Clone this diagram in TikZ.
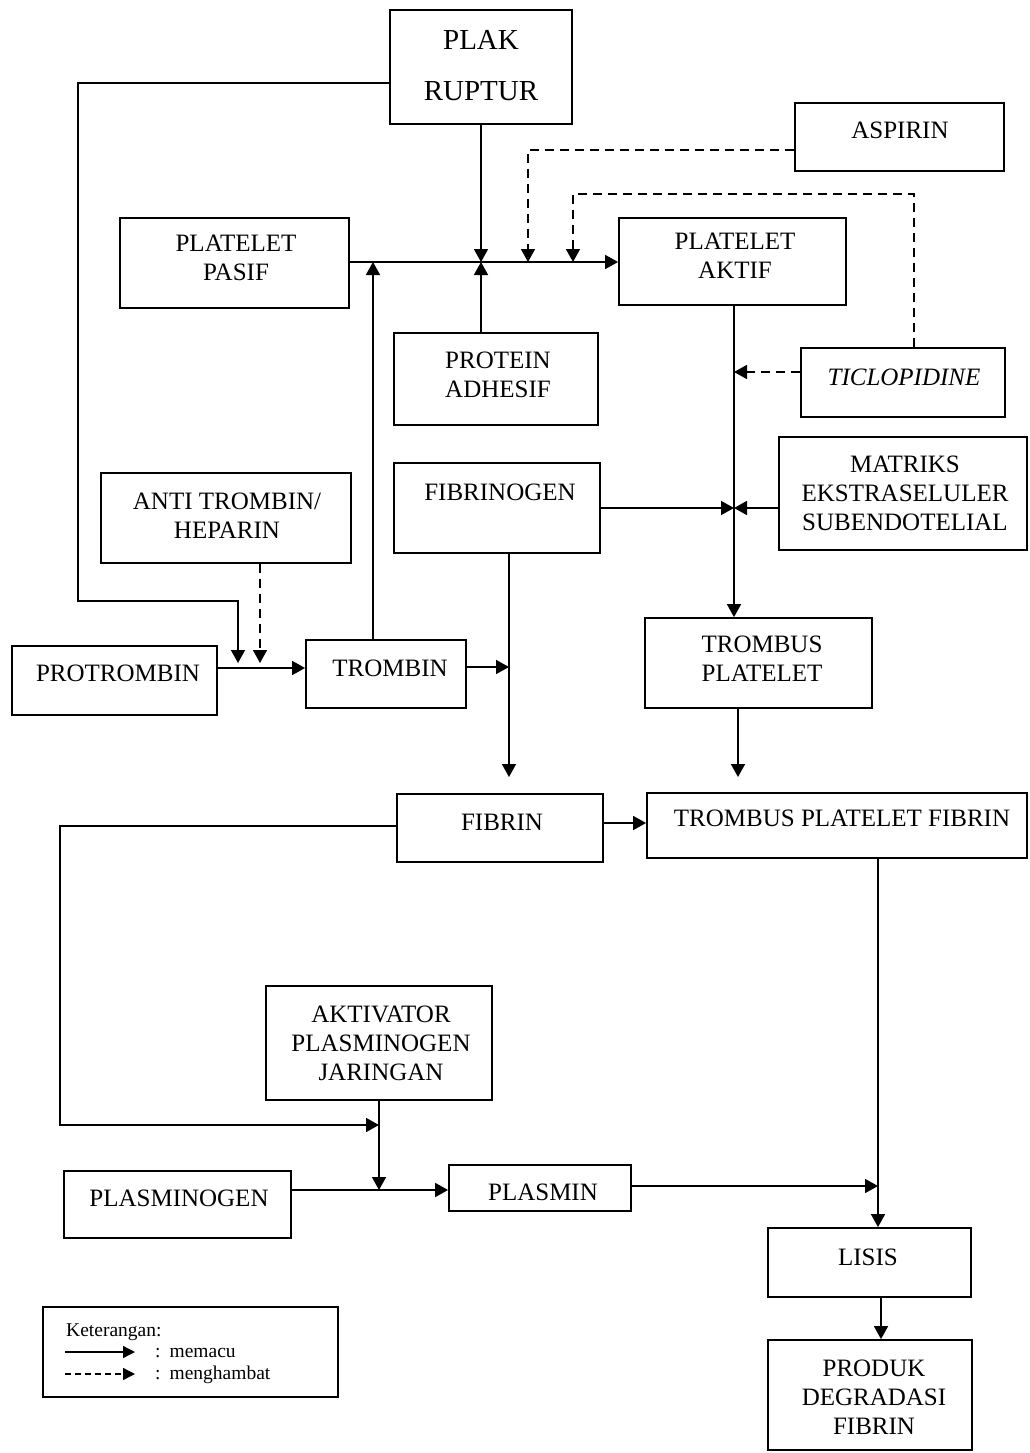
\documentclass[tikz,border=0pt]{standalone}
\usepackage{fontspec}
\setmainfont{Liberation Serif}
\usetikzlibrary{arrows.meta}
\newcommand\mybox[5]{\node[box,minimum width={(#4)-(#2)},minimum height={(#5)-(#3)}] (#1) at ({((#2)+(#4))/2},{((#3)+(#5))/2}) {};}
\begin{document}
\begin{tikzpicture}[x=1pt,y=-1pt,
  box/.style={draw,line width=1.8pt,inner sep=0pt},
  txt/.style={font=\fontsize{25}{29}\selectfont,align=center,inner sep=0pt},
  bigtxt/.style={font=\fontsize{29}{51}\selectfont,align=center,inner sep=0pt},
  legtxt/.style={font=\fontsize{19.5}{22}\selectfont,inner sep=0pt},
  arr/.style={line width=1.6pt,-{Triangle[length=13pt,width=14pt]}},
  darr/.style={arr,dash pattern=on 9pt off 6pt},
  larr/.style={line width=1.4pt,-{Triangle[length=12pt,width=12pt]}},
  ldarr/.style={larr,dash pattern=on 6pt off 4pt},
]
\useasboundingbox (0,0) rectangle (1029,1453);

% boxes
\mybox{plak}{390}{10}{572}{124}
\mybox{aspirin}{795}{103}{1004}{171}
\mybox{pasif}{120}{218}{349}{308}
\mybox{aktif}{619}{218}{846}{305}
\mybox{protein}{394}{333}{598}{425}
\mybox{ticlo}{801}{348}{1005}{417}
\mybox{anti}{101}{473}{351}{563}
\mybox{fibrinogen}{394}{463}{600}{553}
\mybox{matriks}{779}{437}{1027}{550}
\mybox{protrombin}{12}{646}{217}{715}
\mybox{trombin}{306}{640}{466}{708}
\mybox{tp}{645}{618}{872}{708}
\mybox{fibrin}{397}{794}{603}{862}
\mybox{tpf}{647}{793}{1027}{858}
\mybox{akt}{266}{986}{492}{1100}
\mybox{plasminogen}{64}{1171}{291}{1238}
\mybox{plasmin}{449}{1165}{631}{1211}
\mybox{lisis}{768}{1228}{971}{1297}
\mybox{produk}{768}{1340}{972}{1450}
\mybox{legend}{43}{1307}{338}{1397}

% texts
\node[bigtxt] (tplak) at (481,66) {PLAK\\RUPTUR};
\node[txt] (taspirin) at (900,130) {ASPIRIN};
\node[txt] (tpasif) at (236,258) {PLATELET\\PASIF};
\node[txt] (taktif) at (735,256) {PLATELET\\AKTIF};
\node[txt] (tprotein) at (498,375) {PROTEIN\\ADHESIF};
\node[txt] (tticlo) at (904,377) {\itshape TICLOPIDINE};
\node[txt] (tanti) at (227,516) {ANTI TROMBIN/\\HEPARIN};
\node[txt] (tfibrinogen) at (500,492) {FIBRINOGEN};
\node[txt] (tmatriks) at (905,493) {MATRIKS\\EKSTRASELULER\\SUBENDOTELIAL};
\node[txt] (tprotrombin) at (118,673) {PROTROMBIN};
\node[txt] (ttrombin) at (390,668) {TROMBIN};
\node[txt] (ttp) at (762,659) {TROMBUS\\PLATELET};
\node[txt] (tfibrin) at (502,822) {FIBRIN};
\node[txt] (ttpf) at (842,818) {TROMBUS PLATELET FIBRIN};
\node[txt] (takt) at (381,1043) {AKTIVATOR\\PLASMINOGEN\\JARINGAN};
\node[txt] (tplasminogen) at (179,1198) {PLASMINOGEN};
\node[txt] (tplasmin) at (543,1192) {PLASMIN};
\node[txt] (tlisis) at (868,1257) {LISIS};
\node[txt] (tproduk) at (874,1397) {PRODUK\\DEGRADASI\\FIBRIN};

% coordinates
\coordinate (j1) at (481,262);
\coordinate (jt) at (373,262);
\coordinate (jab) at (528,150);
\coordinate (ja) at (528,262);
\coordinate (jc2) at (914,194);
\coordinate (jc1) at (573,194);
\coordinate (jc) at (573,262);
\coordinate (jtk) at (734,372);
\coordinate (jf) at (509,667);
\coordinate (fend) at (509,777);
\coordinate (tpend) at (738,777);
\coordinate (fr) at (603,823);
\coordinate (fl1) at (60,826);
\coordinate (fl2) at (60,1125);
\coordinate (fl3) at (379,1125);
\coordinate (ap) at (379,1190);
\coordinate (pl) at (878,1186);
\coordinate (ls) at (881,1297);
\coordinate (pk1) at (78,83);
\coordinate (pk2) at (78,601);
\coordinate (pk3) at (238,601);
\coordinate (pk4) at (238,663);
\coordinate (an) at (260,663);
\coordinate (pt) at (217,668);

% connectors
\draw[arr] (plak.south -| j1) -- (j1);
\draw[arr] (protein.north -| j1) -- (j1);
\draw[arr] (pasif.east |- j1) -- (aktif.west |- j1);
\draw[arr] (trombin.north -| jt) -- (jt);
\draw[darr] (aspirin.west |- jab) -- (jab) -- (ja);
\draw[darr] (ticlo.north -| jc2) -- (jc2) -- (jc1) -- (jc);
\draw[darr] (ticlo.west |- jtk) -- (jtk);
\draw[arr] (aktif.south -| jtk) -- (tp.north -| jtk);
\draw[arr] (fibrinogen.east) -- (fibrinogen.east -| jtk);
\draw[arr] (matriks.west |- fibrinogen.east) -- (fibrinogen.east -| jtk);
\draw[arr] (fibrinogen.south -| fend) -- (fend);
\draw[arr] (trombin.east |- jf) -- (jf);
\draw[arr] (tp.south -| tpend) -- (tpend);
\draw[arr] (fibrin.east |- fr) -- (tpf.west |- fr);
\draw[arr] (fibrin.west |- fl1) -- (fl1) -- (fl2) -- (fl3);
\draw[arr] (akt.south -| ap) -- (ap);
\draw[arr] (plasminogen.east |- ap) -- (plasmin.west |- ap);
\draw[arr] (plasmin.east |- pl) -- (pl);
\draw[arr] (tpf.south -| pl) -- (lisis.north -| pl);
\draw[arr] (lisis.south -| ls) -- (produk.north -| ls);
\draw[arr] (plak.west |- pk1) -- (pk1) -- (pk2) -- (pk3) -- (pk4);
\draw[darr] (anti.south -| an) -- (an);
\draw[arr] (protrombin.east |- pt) -- (trombin.west |- pt);

% legend
\node[legtxt,anchor=west] (lk) at (66,1332) {Keterangan:};
\coordinate (la1) at (65,1352);
\coordinate (la2) at (135,1352);
\coordinate (lb1) at (65,1374);
\coordinate (lb2) at (135,1374);
\draw[larr] (la1) -- (la2);
\draw[ldarr] (lb1) -- (lb2);
\node[legtxt,anchor=west] (lm) at (155,1353) {:\hspace{9pt}memacu};
\node[legtxt,anchor=west] (lh) at (155,1375) {:\hspace{9pt}menghambat};
\end{tikzpicture}
\end{document}
